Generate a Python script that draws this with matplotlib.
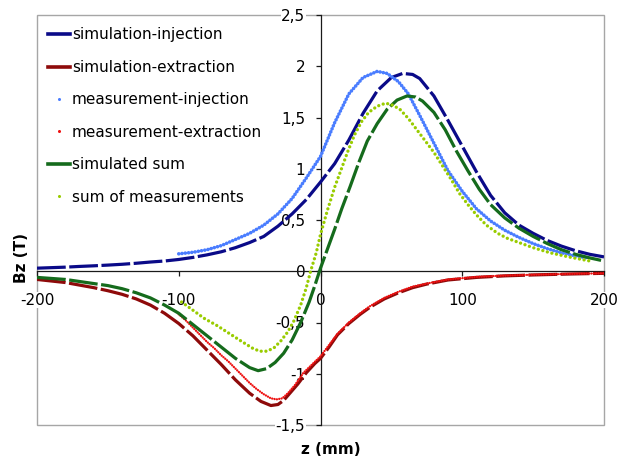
import matplotlib
matplotlib.use("Agg")
import matplotlib.pyplot as plt
from matplotlib.lines import Line2D
from matplotlib.patches import Rectangle

plt.rcParams['font.family'] = ['DejaVu Sans']

# ---- data ----
sim_inj_z = [-200, -190, -180, -170, -160, -150, -140, -130, -120, -110, -100, -90, -80, -70, -60,
             -50, -40, -30, -20, -10, 0, 10, 20, 30, 40, 50, 58, 65, 70, 80, 90, 100, 110, 120, 130,
             140, 150, 160, 170, 180, 190, 200]
sim_inj_b = [0.03, 0.035, 0.04, 0.047, 0.053, 0.06, 0.068, 0.078, 0.09, 0.10, 0.115, 0.135, 0.16,
             0.19, 0.23, 0.28, 0.34, 0.44, 0.56, 0.70, 0.87, 1.05, 1.28, 1.54, 1.76, 1.89, 1.93, 1.92,
             1.88, 1.71, 1.47, 1.22, 0.97, 0.74, 0.57, 0.45, 0.37, 0.30, 0.245, 0.20, 0.165, 0.14]

sim_ext_z = [-200, -190, -180, -170, -160, -150, -140, -130, -120, -110, -100, -90, -80, -70, -60,
             -50, -42, -35, -30, -26, -21, -16, -10, -4, 0, 6, 12, 20, 28, 35, 45, 55, 65, 75, 90,
             110, 130, 150, 175, 200]
sim_ext_b = [-0.08, -0.095, -0.11, -0.135, -0.16, -0.19, -0.225, -0.27, -0.33, -0.41, -0.51, -0.63,
             -0.77, -0.91, -1.06, -1.19, -1.27, -1.31, -1.30, -1.26, -1.18, -1.10, -0.99, -0.90,
             -0.85, -0.74, -0.62, -0.51, -0.42, -0.35, -0.27, -0.21, -0.16, -0.125, -0.085, -0.06,
             -0.045, -0.036, -0.027, -0.02]

meas_inj_z = [-100, -90, -80, -70, -60, -50, -40, -30, -20, -10, 0, 10, 20, 30, 40, 47, 55, 62, 70,
              80, 90, 100, 110, 120, 130, 140, 150, 160, 170, 180, 188]
meas_inj_b = [0.17, 0.185, 0.21, 0.25, 0.31, 0.37, 0.45, 0.56, 0.71, 0.91, 1.12, 1.45, 1.73, 1.89,
              1.95, 1.93, 1.85, 1.73, 1.52, 1.25, 0.98, 0.78, 0.61, 0.49, 0.40, 0.33, 0.27, 0.22,
              0.18, 0.15, 0.13]

meas_ext_z = [-100, -95, -90, -85, -80, -75, -70, -65, -60, -55, -50, -45, -40, -35, -31, -27, -23,
              -18, -12, -6, 0, 6, 12, 20, 28, 35, 45, 55, 65, 75, 90, 110, 130, 150, 175, 200]
meas_ext_b = [-0.42, -0.48, -0.55, -0.62, -0.69, -0.75, -0.82, -0.88, -0.95, -1.02, -1.09, -1.15,
              -1.20, -1.24, -1.25, -1.24, -1.19, -1.11, -0.99, -0.91, -0.83, -0.72, -0.61, -0.50,
              -0.41, -0.34, -0.26, -0.20, -0.15, -0.12, -0.08, -0.055, -0.042, -0.034, -0.026, -0.02]

sim_sum_z = [-200, -190, -180, -170, -160, -150, -140, -130, -120, -110, -100, -90, -80, -70, -60,
             -50, -44, -38, -32, -26, -20, -14, -8, -4, 0, 5, 10, 15, 21, 27, 33, 40, 47, 54, 61, 67,
             72, 80, 88, 96, 104, 112, 120, 130, 140, 150, 160, 170, 180, 190, 200]
sim_sum_b = [-0.06, -0.07, -0.08, -0.10, -0.12, -0.14, -0.17, -0.21, -0.26, -0.33, -0.41, -0.52,
             -0.63, -0.74, -0.85, -0.94, -0.97, -0.95, -0.89, -0.80, -0.67, -0.50, -0.30, -0.14,
             0.03, 0.22, 0.41, 0.61, 0.83, 1.06, 1.27, 1.44, 1.58, 1.67, 1.71, 1.70, 1.66, 1.55,
             1.38, 1.17, 0.98, 0.80, 0.65, 0.52, 0.42, 0.34, 0.27, 0.21, 0.165, 0.13, 0.10]

sum_meas_z = [-98, -90, -82, -73, -64, -55, -48, -43, -38, -33, -28, -23, -18.8, -14, -10, -7, -3,
              0, 5, 10, 14, 19, 24, 29, 34, 40, 46, 51, 56, 62, 68, 74, 80, 86, 92, 98, 104, 110,
              117, 125, 132, 140, 150, 162, 175, 190]
sum_meas_b = [-0.30, -0.38, -0.46, -0.53, -0.61, -0.69, -0.75, -0.78, -0.78, -0.75, -0.68, -0.59,
              -0.485, -0.33, -0.16, 0.0, 0.18, 0.36, 0.60, 0.82, 0.97, 1.16, 1.33, 1.46, 1.55, 1.61,
              1.64, 1.62, 1.58, 1.49, 1.38, 1.27, 1.16, 1.03, 0.90, 0.76, 0.65, 0.55, 0.45, 0.37,
              0.32, 0.28, 0.23, 0.18, 0.14, 0.10]

labels = ["simulation-injection", "simulation-extraction", "measurement-injection",
          "measurement-extraction", "simulated sum", "sum of measurements"]
colors = ["#0A0A88", "#8E0A0A", "#4A7DFF", "#EE1111", "#156B1C", "#99CC00"]

x_ticks = [-200, -100, 0, 100, 200]
x_ticklabels = ["-200", "-100", "0", "100", "200"]
y_ticks = [-1.5, -1.0, -0.5, 0.0, 0.5, 1.0, 1.5, 2.0, 2.5]
y_ticklabels = ["-1,5", "-1", "-0,5", "0", "0,5", "1", "1,5", "2", "2,5"]

# ---- figure ----
W, H = 628, 458
fig = plt.figure(figsize=(W / 100, H / 100), dpi=100)
ax = fig.add_axes([37 / W, 33 / H, 567 / W, 410 / H])
ax.set_xlim(-200, 200)
ax.set_ylim(-1.5, 2.5)

sim_dash = (9, 1.1)
ax.plot(sim_inj_z, sim_inj_b, color=colors[0], lw=2.3, dashes=sim_dash, zorder=3)
ax.plot(sim_ext_z, sim_ext_b, color=colors[1], lw=2.3, dashes=sim_dash, zorder=3)
ax.plot(meas_inj_z, meas_inj_b, color=colors[2], lw=2.6, dashes=(0.01, 0.9),
        dash_capstyle='round', zorder=3)
ax.plot(meas_ext_z, meas_ext_b, color=colors[3], lw=1.7, dashes=(0.01, 1.0),
        dash_capstyle='round', zorder=3)
ax.plot(sim_sum_z, sim_sum_b, color=colors[4], lw=2.3, dashes=sim_dash, zorder=3)
ax.plot(sum_meas_z, sum_meas_b, color=colors[5], lw=2.4, dashes=(0.01, 1.4),
        dash_capstyle='round', zorder=3)

# axes through the origin
for s in ("top", "right"):
    ax.spines[s].set_visible(False)
ax.spines["left"].set_position(("data", 0))
ax.spines["bottom"].set_position(("data", 0))
for s in ("left", "bottom"):
    ax.spines[s].set_color("#1a1a1a")
    ax.spines[s].set_linewidth(0.9)
ax.patch.set_visible(False)
ax.add_patch(Rectangle((0, 0), 1, 1, transform=ax.transAxes, fill=False,
                       edgecolor="#A6A6A6", lw=1.0, zorder=1, clip_on=False))

ax.set_xticks(x_ticks)
ax.set_xticklabels(x_ticklabels)
ax.set_yticks(y_ticks)
ax.set_yticklabels(y_ticklabels)
ax.tick_params(axis="y", direction="out", length=3.6, width=0.9, color="#1a1a1a",
               pad=7.3, labelsize=11)
ax.tick_params(axis="x", direction="out", length=3.6, width=0.9, color="#1a1a1a",
               pad=12, labelsize=11)
for t in ax.get_xticklabels() + ax.get_yticklabels():
    t.set_bbox(dict(facecolor="white", edgecolor="none", pad=0.3))

fig.text(22 / W, 1 - 258 / H, "Bz (T)", rotation=90, fontsize=11, fontweight="bold",
         ha="center", va="center")
fig.text(331 / W, 1 - 449 / H, "z (mm)", fontsize=11, fontweight="bold",
         ha="center", va="center")

handles = [
    Line2D([], [], color=colors[0], lw=2.6),
    Line2D([], [], color=colors[1], lw=2.6),
    Line2D([], [], color=colors[2], ls="none", marker="o", ms=2.2, mec="none"),
    Line2D([], [], color=colors[3], ls="none", marker="o", ms=2.2, mec="none"),
    Line2D([], [], color=colors[4], lw=2.6),
    Line2D([], [], color=colors[5], ls="none", marker="o", ms=2.2, mec="none"),
]
leg = ax.legend(handles, labels, loc="upper left", bbox_to_anchor=(48 / W, 1 - 27.5 / H),
                bbox_transform=fig.transFigure, frameon=False, fontsize=11,
                handlelength=1.45, handletextpad=0.12, labelspacing=1.14,
                borderpad=0, borderaxespad=0)
leg.set_zorder(5)

fig.savefig("out.png", dpi=100)
